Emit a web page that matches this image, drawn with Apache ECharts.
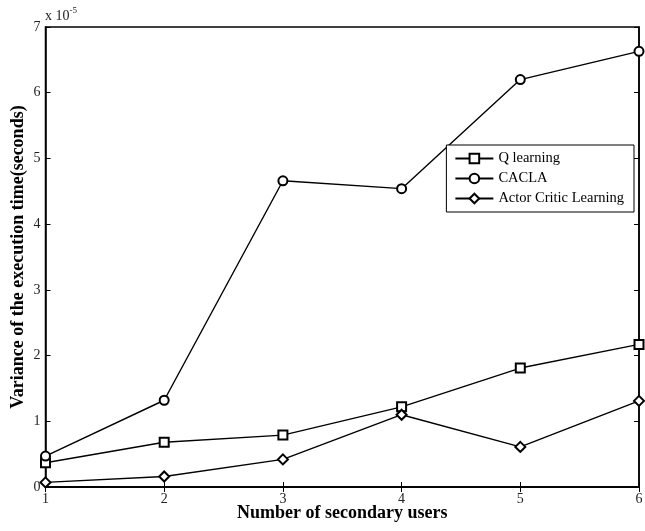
<!DOCTYPE html>
<html>
<head>
<meta charset="utf-8">
<script src="https://cdn.jsdelivr.net/npm/echarts@6/dist/echarts.min.js"></script>
<style>
  html, body { margin: 0; padding: 0; background: #fff; }
  #box { width: 645px; height: 531px; }
</style>
</head>
<body>
<div id="box"></div>
<script>
var users = [1, 2, 3, 4, 5, 6];
var qLearning = [0.37, 0.68, 0.79, 1.22, 1.81, 2.17];
var cacla = [0.47, 1.32, 4.66, 4.54, 6.20, 6.63];
var actorCritic = [0.07, 0.16, 0.42, 1.10, 0.61, 1.31];
var yTicks = [0, 1, 2, 3, 4, 5, 6, 7];

function pairs(vals) {
  return users.map(function (u, i) { return [u, vals[i]]; });
}

var font = 'Liberation Serif, Times New Roman, serif';
var chart = echarts.init(document.getElementById('box'));

var lineStyle = { color: '#000', width: 1.4 };
function mkSeries(name, vals, symbol) {
  return {
    name: name,
    type: 'line',
    data: pairs(vals),
    symbol: symbol,
    symbolSize: symbol === 'emptyDiamond' ? 10 : 9,
    lineStyle: lineStyle,
    itemStyle: { color: '#000', borderColor: '#000', borderWidth: 1.4 },
    emphasis: { disabled: true },
    z: 3
  };
}

var option = {
  backgroundColor: '#fff',
  animation: false,
  grid: {
    left: 45.5, right: 6, top: 27, bottom: 44,
    containLabel: false, outerBoundsMode: 'none',
    show: true, borderColor: '#000', borderWidth: 1.5, backgroundColor: 'transparent'
  },
  legend: {
    right: 11,
    top: 145,
    orient: 'vertical',
    backgroundColor: '#fff',
    borderColor: '#000',
    borderWidth: 1,
    borderRadius: 0,
    padding: [6, 10, 6, 8],
    itemGap: 5,
    itemWidth: 38,
    itemHeight: 12,
    textStyle: { fontFamily: font, fontSize: 14.5, color: '#000' },
    data: ['Q learning', 'CACLA', 'Actor Critic Learning']
  },
  xAxis: [{
    type: 'value', min: 1, max: 6, interval: 1,
    name: 'Number of secondary users',
    nameLocation: 'middle', nameGap: 17, nameMoveOverlap: false,
    nameTextStyle: { fontFamily: font, fontSize: 18, fontWeight: 'bold', color: '#000' },
    axisLine: { show: true, lineStyle: { color: '#000', width: 1.5 } },
    axisTick: { show: true, inside: true, length: 5, lineStyle: { color: '#000' } },
    axisLabel: { fontFamily: font, fontSize: 14, color: '#222', margin: 5 },
    splitLine: { show: false }
  }, {
    type: 'value', min: 1, max: 6, interval: 1, position: 'top',
    axisLine: { show: true, lineStyle: { color: '#000', width: 1.5 } },
    axisTick: { show: true, inside: true, length: 5, lineStyle: { color: '#000' } },
    axisLabel: { show: false },
    splitLine: { show: false }
  }],
  yAxis: [{
    type: 'value', min: 0, max: 7, interval: 1,
    name: 'Variance of the execution time(seconds)',
    nameLocation: 'middle', nameGap: 18, nameMoveOverlap: false,
    nameTextStyle: { fontFamily: font, fontSize: 18, fontWeight: 'bold', color: '#000' },
    axisLine: { show: true, lineStyle: { color: '#000', width: 1.5 } },
    axisTick: { show: true, inside: true, length: 5, lineStyle: { color: '#000' } },
    axisLabel: {
      fontFamily: font, fontSize: 14, color: '#222', margin: 5,
      formatter: function (v) { return yTicks.indexOf(v) >= 0 ? String(v) : ''; }
    },
    splitLine: { show: false }
  }, {
    type: 'value', min: 0, max: 7, interval: 1, position: 'right',
    axisLine: { show: true, lineStyle: { color: '#000', width: 1.5 } },
    axisTick: { show: true, inside: true, length: 5, lineStyle: { color: '#000' } },
    axisLabel: { show: false },
    splitLine: { show: false }
  }],
  graphic: [{
    type: 'text',
    left: 45,
    top: 6,
    style: {
      text: '{a|x 10}{b|-5}',
      rich: {
        a: { fontFamily: font, fontSize: 14, fill: '#222', padding: [5, 0, 0, 0] },
        b: { fontFamily: font, fontSize: 9, fill: '#222', padding: [0, 0, 7, 0] }
      }
    }
  }],
  series: [
    mkSeries('Q learning', qLearning, 'emptyRect'),
    mkSeries('CACLA', cacla, 'emptyCircle'),
    mkSeries('Actor Critic Learning', actorCritic, 'emptyDiamond')
  ]
};
chart.setOption(option);
</script>
</body>
</html>
